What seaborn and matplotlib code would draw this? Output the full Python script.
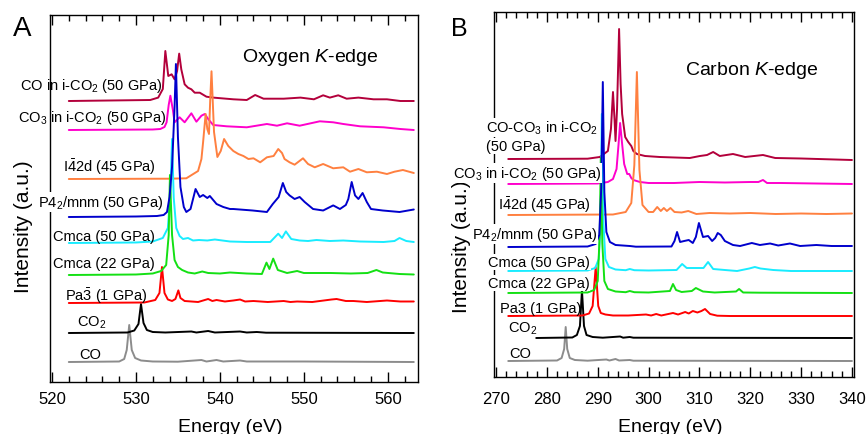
import numpy as np
import pandas as pd
import matplotlib
matplotlib.use("Agg")
import matplotlib.pyplot as plt
from matplotlib.ticker import MultipleLocator
import seaborn as sns

# ---------------- data: panel A (Oxygen K-edge) ----------------
A_CO_E = [522.0, 528.0, 528.6, 528.9, 529.2, 529.5, 529.9, 530.6, 532.0, 535.0, 537.8, 538.4, 539.6, 540.4, 542.4, 543.2, 550.0, 563.1]
A_CO_I = [0, 0.5, 3, 12, 37, 12, 4, 1.5, 0.5, 0.3, 2, 0.5, 2, 0.5, 1.5, 0.5, 0.5, 0]

A_CO2_E = [522.0, 529.0, 529.8, 530.3, 530.6, 530.9, 531.3, 532.0, 533.5, 536.6, 537.2, 538.6, 539.4, 542.4, 543.2, 544.4, 545.5, 563.1]
A_CO2_I = [0, 0.5, 2.5, 9, 29, 10, 3, 1, 0.5, 1.5, 0.5, 2, 0.5, 1.5, 0.5, 1, 0.3, 0]

A_PA3_E = [522.0, 531.0, 532.3, 532.8, 533.1, 533.4, 533.8, 534.3, 534.7, 535.05, 535.3, 535.8, 536.6, 537.4, 538.6, 539.1, 539.6, 540.6, 541.6, 542.4, 543.0, 544.0, 545.7, 547.6, 548.4, 549.2, 551.0, 553.3, 553.9, 555.0, 555.9, 557.5, 559.9, 561.5, 563.1]
A_PA3_I = [0, 0.5, 3, 10, 36, 10, 3.5, 2, 4, 12.6, 5, 2, 1.5, 1, 4, 2, 3, 1.5, 2.5, 3.5, 1.5, 2, 1, 2, 1, 1.5, 1, 3.5, 4, 2, 2, 1, 2.5, 1.5, 1.5]

A_CM22_E = [522.0, 530.0, 532.0, 533.0, 533.6, 533.9, 534.05, 534.3, 534.6, 535.0, 535.5, 536.2, 537.0, 537.9, 538.6, 540.0, 541.2, 543.2, 545.0, 545.55, 545.9, 546.35, 546.9, 548.0, 549.2, 550.0, 551.2, 553.2, 555.6, 557.6, 558.65, 559.4, 561.4, 563.1]
A_CM22_I = [0, 0.5, 1.5, 4, 10, 40, 100, 40, 15, 8, 5, 2.5, 1.5, 3.5, 2, 1.5, 2.5, 1.5, 1, 12.4, 6, 16.4, 5, 2, 4, 2, 2, 2, 1.5, 2, 5, 2.5, 1, 0.5]

A_CM50_E = [522.0, 530.0, 532.0, 533.2, 533.8, 534.1, 534.3, 534.5, 534.8, 535.2, 535.6, 536.2, 536.8, 537.5, 538.5, 539.4, 541.2, 543.2, 546.0, 546.95, 547.4, 547.86, 548.5, 549.5, 550.5, 551.5, 553.1, 554.7, 556.7, 559.5, 560.8, 561.4, 562.2, 563.1]
A_CM50_I = [0, 0.5, 1.5, 5, 15, 50, 104, 45, 15, 7, 4, 5, 2.5, 3, 2.5, 3.5, 1.5, 1, 1, 9.3, 5, 11.6, 4, 2.5, 2, 3, 2, 2.5, 1.5, 1, 2, 5, 2, 1]

A_P42_E = [522.0, 530.0, 532.5, 533.3, 533.7, 534.0, 534.3, 534.6, 534.76, 535.0, 535.3, 535.7, 536.0, 536.5, 537.1, 537.6, 538.0, 538.5, 538.8, 539.6, 540.4, 541.2, 541.6, 543.9, 545.6, 546.3, 547.0, 547.5, 547.9, 548.3, 548.9, 549.5, 550.1, 551.1, 552.3, 553.5, 554.3, 555.0, 555.3, 555.7, 556.1, 556.5, 557.0, 557.5, 558.0, 559.4, 561.4, 563.1]
A_P42_I = [0, 0.5, 1, 2, 5, 20, 50, 110, 153, 80, 30, 10, 5, 8, 28, 20, 22, 19, 21, 13, 10, 8, 8, 6.5, 5, 13, 20, 34, 25, 21.6, 18, 20, 15, 8, 6.5, 11.6, 8, 12, 18, 35, 21.6, 18, 24, 15, 8, 6.5, 5, 7.5]

A_I42_E = [522.0, 534.0, 536.0, 537.4, 537.8, 538.0, 538.3, 538.5, 538.7, 538.85, 539.0, 539.3, 539.7, 540.1, 540.5, 541.0, 541.6, 542.2, 542.8, 543.4, 544.0, 544.8, 545.6, 546.4, 546.95, 547.4, 547.7, 548.3, 548.9, 549.9, 550.5, 551.3, 552.3, 553.5, 554.7, 555.5, 556.5, 557.5, 558.7, 559.9, 560.8, 561.8, 563.1]
A_I42_I = [0, 0.3, 0.7, 8, 20, 37, 65, 50, 45, 80, 107.7, 47, 22, 28, 40, 33, 28, 25, 23, 20, 20.7, 16.7, 21.7, 23, 30, 26, 20, 16.7, 14.3, 20.7, 15, 11.7, 15, 10.7, 11.7, 7.3, 10, 6.7, 7.3, 5, 7.3, 9, 6]

A_CO3_E = [522.0, 532.0, 532.9, 533.4, 533.65, 533.9, 534.1, 534.4, 534.6, 535.2, 535.8, 536.6, 537.2, 537.8, 538.2, 538.6, 539.2, 540.8, 543.2, 545.6, 546.8, 548.0, 549.5, 551.9, 553.5, 554.7, 556.7, 559.5, 561.5, 563.1]
A_CO3_I = [0, 0.5, 1, 3, 7.7, 25, 34.3, 20, 7.7, 12.7, 7.7, 16.7, 8.3, 14.3, 16, 11, 5, 3.7, 2.7, 6, 4.3, 6.7, 4.3, 8.7, 7.7, 6, 3.7, 2.7, 1, 0]

A_COI_E = [522.0, 531.7, 532.65, 533.2, 533.5, 533.85, 534.25, 534.6, 534.9, 535.15, 535.4, 535.8, 536.2, 536.6, 537.0, 537.6, 538.4, 539.2, 541.6, 543.2, 544.2, 545.2, 547.6, 549.6, 551.2, 552.3, 553.1, 554.1, 555.1, 556.5, 558.3, 559.9, 561.5, 563.1]
A_COI_I = [0, 1, 3.4, 12, 50, 25, 26.7, 21.7, 30, 47.4, 31.7, 16.7, 13.3, 11.7, 8.3, 8.3, 4.3, 3.4, 1.7, 1, 6, 2.3, 2.3, 3.4, 1.7, 5.7, 3.4, 5.7, 2.3, 3.4, 1.7, 1.7, 0, 0]

# ---------------- data: panel B (Carbon K-edge) ----------------
B_CO_E = [272.4, 282.0, 282.9, 283.4, 283.7, 284.0, 284.5, 285.5, 288.0, 291.7, 292.3, 293.5, 294.2, 296.3, 297.0, 340.0]
B_CO_I = [0, 0.5, 3, 12, 34, 12, 3, 1, 0.3, 1.5, 0.5, 2, 0.5, 1, 0.3, 0]

B_CO2_E = [277.9, 285.0, 285.9, 286.5, 286.9, 287.3, 287.8, 289.0, 291.0, 294.4, 295.0, 296.3, 297.0, 340.0]
B_CO2_I = [0, 0.5, 3, 12, 47.6, 12, 3, 1, 0.3, 1.5, 0.3, 1, 0.3, 0]

B_PA3_E = [272.4, 287.0, 288.3, 289.0, 289.6, 290.1, 290.6, 291.5, 293.0, 296.0, 299.5, 300.5, 301.5, 302.5, 304.8, 305.8, 307.2, 307.9, 308.7, 309.6, 310.4, 311.1, 312.1, 313.5, 316.0, 340.0]
B_PA3_I = [0, 0.5, 2.5, 10, 49, 10, 3, 1.5, 0.5, 0.5, 1.5, 0.5, 2, 0.5, 3, 1.5, 4, 2.5, 5, 3.5, 5, 7, 2, 0.3, 0, 0]

B_CM22_E = [272.4, 288.0, 289.3, 290.0, 290.4, 290.6, 290.9, 291.3, 292.0, 293.5, 295.5, 296.3, 297.2, 300.0, 304.2, 304.8, 305.4, 306.5, 308.5, 309.3, 310.7, 313.0, 317.2, 317.8, 318.6, 322.0, 340.0]
B_CM22_I = [0, 0.5, 3, 12, 60, 135, 50, 12, 4, 1.5, 0.8, 2, 0.8, 0.5, 2, 9, 3, 1, 2, 5, 1.5, 0.5, 1.5, 4, 0.5, 0.3, 0]

B_CM50_E = [272.4, 288.0, 289.5, 290.2, 290.6, 290.8, 291.1, 291.5, 292.2, 293.5, 295.5, 296.3, 297.2, 300.0, 305.5, 306.6, 307.5, 308.5, 310.8, 311.7, 312.7, 315.0, 317.4, 319.8, 320.9, 322.0, 324.5, 328.0, 340.0]
B_CM50_I = [0, 0.5, 3, 12, 50, 157, 50, 12, 4, 1.5, 0.8, 2, 0.8, 0.5, 1, 7, 3, 3, 3, 9, 2, 1, 0, 2.5, 4, 2.5, 1, 0, 0]

B_P42_E = [272.4, 288.0, 289.6, 290.3, 290.7, 291.0, 291.3, 291.7, 292.4, 293.5, 296.3, 297.5, 304.5, 305.1, 305.6, 306.2, 307.0, 307.9, 308.7, 309.3, 309.9, 310.7, 311.7, 312.5, 313.1, 313.6, 314.2, 315.0, 316.6, 318.0, 320.3, 321.9, 323.9, 325.5, 327.8, 329.8, 333.0, 336.0, 340.0]
B_P42_I = [0, 0.5, 3, 12, 60, 165, 55, 15, 5, 2, 1, 0.3, 0.5, 6, 15, 5, 6, 7, 4, 10, 24, 10, 11, 6, 9, 14, 12, 6, 2, 1, 4, 2, 3.5, 1.5, 3.5, 1, 2, 1, 1]

B_I42_E = [272.4, 293.0, 295.5, 296.6, 297.2, 297.7, 298.2, 298.8, 300.0, 300.9, 301.7, 302.4, 303.0, 303.6, 304.3, 305.1, 306.5, 307.8, 309.4, 312.0, 316.0, 320.0, 325.0, 330.0, 335.0, 340.0]
B_I42_I = [0, 0.5, 3, 12, 50, 143, 45, 10, 3, 3, 8, 4, 7, 4, 7, 3, 2.5, 4, 1, 2, 1.5, 2, 1, 1.5, 1, 1.5]

B_CO3_E = [272.4, 290.0, 292.0, 293.0, 293.7, 294.1, 294.4, 294.8, 295.2, 295.8, 296.2, 296.6, 297.0, 298.3, 300.0, 305.0, 310.0, 315.0, 320.0, 321.6, 322.5, 323.3, 326.0, 340.0]
B_CO3_I = [0, 0.5, 2, 5, 15, 40, 61, 40, 20, 10, 10, 6, 4, 2, 1, 1, 2, 1.5, 2, 2, 4, 1, 1, 0]

B_COI_E = [272.4, 288.0, 290.4, 292.0, 292.6, 293.0, 293.3, 293.5, 293.8, 294.2, 294.5, 294.8, 295.4, 296.0, 296.6, 297.0, 297.7, 299.3, 302.2, 308.1, 310.1, 311.5, 312.7, 314.0, 316.6, 319.0, 322.5, 324.9, 330.0, 340.0]
B_COI_I = [0, 0.3, 2, 8, 30, 67, 40, 18, 50, 130, 75, 45, 22, 17, 13, 8, 5, 3, 2, 1, 3, 4, 7, 3, 5, 2, 4, 1, 0.5, -1]

SAMPLES = ["CO", "CO2", "Pa3", "Cmca22", "Cmca50", "P42mnm", "I42d", "CO3", "COi"]
A_DATA = {"CO": (A_CO_E, A_CO_I), "CO2": (A_CO2_E, A_CO2_I), "Pa3": (A_PA3_E, A_PA3_I),
          "Cmca22": (A_CM22_E, A_CM22_I), "Cmca50": (A_CM50_E, A_CM50_I), "P42mnm": (A_P42_E, A_P42_I),
          "I42d": (A_I42_E, A_I42_I), "CO3": (A_CO3_E, A_CO3_I), "COi": (A_COI_E, A_COI_I)}
B_DATA = {"CO": (B_CO_E, B_CO_I), "CO2": (B_CO2_E, B_CO2_I), "Pa3": (B_PA3_E, B_PA3_I),
          "Cmca22": (B_CM22_E, B_CM22_I), "Cmca50": (B_CM50_E, B_CM50_I), "P42mnm": (B_P42_E, B_P42_I),
          "I42d": (B_I42_E, B_I42_I), "CO3": (B_CO3_E, B_CO3_I), "COi": (B_COI_E, B_COI_I)}

A_LABELS = ["CO", "CO$_2$", r"Pa$\bar{3}$ (1 GPa)", "Cmca (22 GPa)", "Cmca (50 GPa)",
            "P4$_2$/mnm (50 GPa)", r"I$\bar{4}$2d (45 GPa)", "CO$_3$ in i-CO$_2$ (50 GPa)",
            "CO in i-CO$_2$ (50 GPa)"]
B_LABELS = ["CO", "CO$_2$", "Pa3 (1 GPa)", "Cmca (22 GPa)", "Cmca (50 GPa)",
            "P4$_2$/mnm (50 GPa)", r"I$\bar{4}$2d (45 GPa)", "CO$_3$ in i-CO$_2$ (50 GPa)",
            "CO-CO$_3$ in i-CO$_2$\n(50 GPa)"]

# ---------------- styling / layout (not data) ----------------
COLORS = {"CO": "#8c8c8c", "CO2": "#000000", "Pa3": "#ff0000", "Cmca22": "#14e014",
          "Cmca50": "#19ecff", "P42mnm": "#0000cc", "I42d": "#ff8040", "CO3": "#ff00cc",
          "COi": "#b3003b"}
DRAW_ORDER = ["CO", "CO2", "Pa3", "CO3", "COi", "I42d", "Cmca50", "Cmca22", "P42mnm"]
A_OFFSETS = {"CO": 20, "CO2": 49, "Pa3": 79, "Cmca22": 107, "Cmca50": 139,
             "P42mnm": 165, "I42d": 203, "CO3": 252, "COi": 281}
B_OFFSETS = {"CO": 16, "CO2": 39, "Pa3": 61, "Cmca22": 84, "Cmca50": 106,
             "P42mnm": 130, "I42d": 162, "CO3": 193, "COi": 218}

sns.set_theme(style="white")
plt.rcParams["font.family"] = ["Liberation Sans", "DejaVu Sans"]
plt.rcParams["mathtext.fontset"] = "custom"
plt.rcParams["mathtext.rm"] = "Liberation Sans"
plt.rcParams["mathtext.it"] = "Liberation Sans:italic"
plt.rcParams["mathtext.bf"] = "Liberation Sans:bold"

W, H = 866, 435
fig = plt.figure(figsize=(W / 100, H / 100), dpi=100)


def px_axes(l, t, r, b):
    return fig.add_axes([l / W, 1 - b / H, (r - l) / W, (b - t) / H])


def build(data, offsets):
    rows = []
    for s in SAMPLES:
        e, i = data[s]
        for ee, ii in zip(e, i):
            rows.append({"energy": ee, "y": ii + offsets[s], "sample": s})
    return pd.DataFrame(rows)


def style_axes(ax, xlim, ylim, major, pad):
    ax.set_xlim(*xlim)
    ax.set_ylim(*ylim)
    ax.set_xticks(major)
    ax.xaxis.set_minor_locator(MultipleLocator(2))
    ax.set_yticks([])
    ax.tick_params(axis="x", which="both", direction="in", top=True, bottom=True,
                   colors="black", labelsize=12, pad=pad)
    ax.tick_params(axis="x", which="major", length=7, width=1)
    ax.tick_params(axis="x", which="minor", length=4, width=1)
    for sp in ax.spines.values():
        sp.set_visible(True)
        sp.set_color("black")
        sp.set_linewidth(1.0)


axA = px_axes(50, 16, 418, 383)
axB = px_axes(494, 13, 854, 378)

for ax, data, offs in [(axA, A_DATA, A_OFFSETS), (axB, B_DATA, B_OFFSETS)]:
    df = build(data, offs)
    sns.lineplot(data=df, x="energy", y="y", hue="sample", hue_order=DRAW_ORDER,
                 palette=COLORS, estimator=None, sort=False, legend=False,
                 linewidth=1.4, ax=ax)

style_axes(axA, (519.76, 563.6), (0, 367), np.arange(520, 561, 10), 6.5)
style_axes(axB, (269.6, 340.4), (0, 365), np.arange(270, 341, 10), 10)

for ax, xy, yx in [(axA, -0.098, (-0.073, 0.427)), (axB, -0.112, (-0.089, 0.36))]:
    ax.set_xlabel("Energy (eV)", fontsize=14, color="black")
    ax.xaxis.set_label_coords(0.49, xy)
    ax.set_ylabel("Intensity (a.u.)", fontsize=15, color="black", va="center")
    ax.yaxis.set_label_coords(*yx)


def ftext(px, py, s, ha="left", size=10.5, box=False, **kw):
    bb = dict(boxstyle="square,pad=0.05", fc="white", ec="none") if box else None
    fig.text(px / W, 1 - py / H, s, ha=ha, va="baseline", fontsize=size,
             color="black", bbox=bb, **kw)


# panel A labels (pixel positions of text baselines); box hides the spine where crossed
A_POS = [(79, 359, "left", False), (77, 327, "left", False), (65, 301, "left", False),
         (53, 268, "left", False), (53, 241, "left", False), (163, 207, "right", True),
         (63, 172, "left", False), (166, 122, "right", False), (162, 90, "right", False)]
for (px, py, ha, bx), lab in zip(A_POS, A_LABELS):
    ftext(px, py, lab, ha=ha, box=bx)

B_POS = [(509, 358, "left", False), (508, 333, "left", False), (500, 313, "left", False),
         (488, 288, "left", True), (488, 267, "left", True), (472, 239, "left", True),
         (498, 210, "left", False), (453, 178, "left", True)]
for (px, py, ha, bx), lab in zip(B_POS, B_LABELS[:-1]):
    ftext(px, py, lab, ha=ha, box=bx)
first, second = B_LABELS[-1].split("\n")
ftext(486, 133, first, box=True)
ftext(486, 151, second, box=True)

ftext(22, 36, "A", ha="center", size=20)
ftext(459.5, 36, "B", ha="center", size=18)
ftext(310, 62, "Oxygen $\\mathit{K}$-edge", ha="center", size=14)
ftext(752, 75, "Carbon $\\mathit{K}$-edge", ha="center", size=14)

fig.savefig("out.png", dpi=100)
